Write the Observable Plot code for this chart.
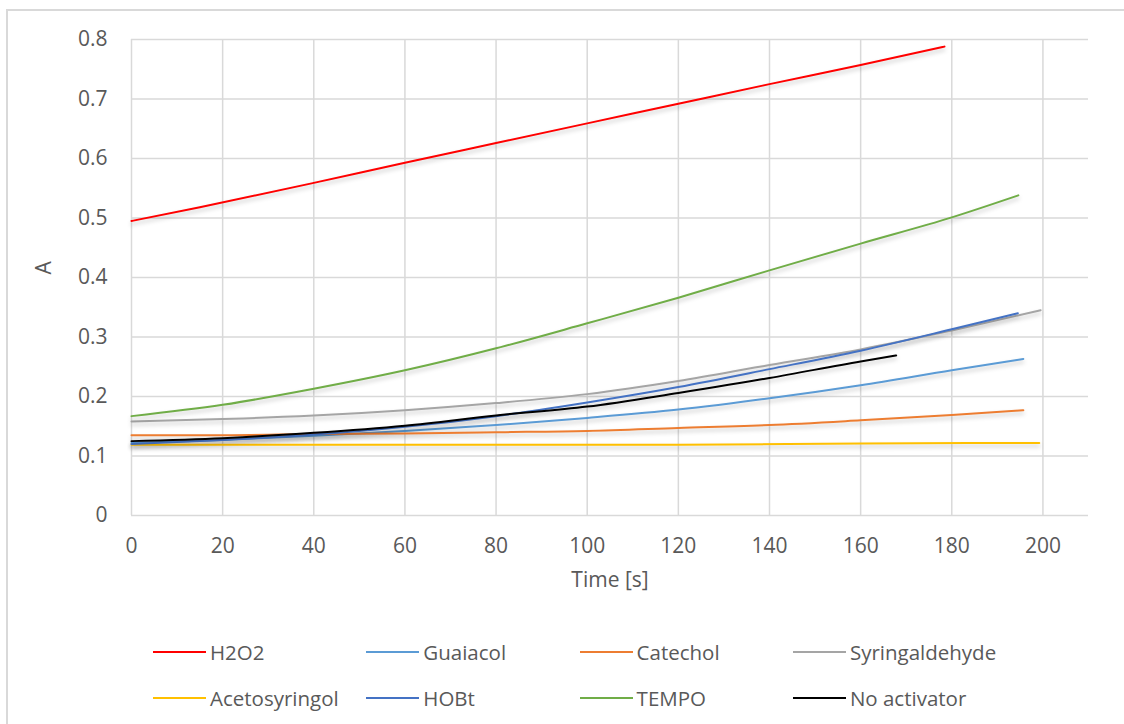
<!DOCTYPE html>
<html><head><meta charset="utf-8">
<script src="https://cdn.jsdelivr.net/npm/d3@7"></script>
<script src="https://cdn.jsdelivr.net/npm/@observablehq/plot@0.6"></script>
<style>
body{margin:0;width:1124px;height:724px;overflow:hidden;background:#fff;font-family:"Open Sans",sans-serif;position:relative}
#frame{position:absolute;left:6px;top:9px;width:1300px;height:900px;border:2px solid #d9d9d9;box-sizing:border-box}
#chart{position:absolute;left:0;top:0}
#chart g[aria-label="line"] path{filter:drop-shadow(0px 3px 2px rgba(0,0,0,0.22));}
.item{position:absolute;height:26px;display:flex;align-items:center;font-size:20.5px;color:#595959;white-space:nowrap}
.sw{width:53px;height:0;border-top:2px solid;margin-right:4px}
</style></head>
<body>
<div id="frame"></div>
<div id="chart"></div>
<div id="legend"></div>
<script>
const seriesNames = ["H2O2","Guaiacol","Catechol","Syringaldehyde","Acetosyringol","HOBt","TEMPO","No activator"];
const seriesColors = ["#ff0000","#5b9bd5","#ed7d31","#a5a5a5","#ffc000","#4472c4","#70ad47","#000000"];
const xTicks = [0,20,40,60,80,100,120,140,160,180,200];
const yTicks = [0,0.1,0.2,0.3,0.4,0.5,0.6,0.7,0.8];

const tH2O2 = [0,15,40,60,80,100,120,140,160,178.4];
const vH2O2 = [0.495,0.518,0.559,0.593,0.626,0.659,0.692,0.725,0.757,0.788];
const tGuaiacol = [0,20,40,60,80,100,120,140,160,180,195.7];
const vGuaiacol = [0.122,0.127,0.134,0.142,0.152,0.164,0.178,0.197,0.219,0.244,0.263];
const tCatechol = [0,20,40,60,80,100,120,140,160,180,195.7];
const vCatechol = [0.135,0.135,0.137,0.138,0.140,0.142,0.147,0.152,0.160,0.169,0.177];
const tSyringaldehyde = [0,20,40,60,80,100,120,140,160,180,199.5];
const vSyringaldehyde = [0.158,0.162,0.168,0.177,0.189,0.204,0.226,0.253,0.279,0.311,0.345];
const tAcetosyringol = [0,40,80,120,160,199.2];
const vAcetosyringol = [0.119,0.119,0.119,0.119,0.121,0.122];
const tHOBt = [0,20,40,60,80,100,120,140,160,180,194.5];
const vHOBt = [0.120,0.127,0.136,0.149,0.167,0.190,0.216,0.246,0.277,0.313,0.340];
const tTEMPO = [0,20,40,60,80,100,120,140,160,180,194.6];
const vTEMPO = [0.167,0.186,0.213,0.244,0.281,0.323,0.366,0.412,0.457,0.501,0.538];
const tNoAct = [0,20,40,60,80,100,120,140,160,167.8];
const vNoAct = [0.125,0.130,0.139,0.151,0.168,0.183,0.206,0.231,0.259,0.269];

const pairs = [[tH2O2,vH2O2],[tGuaiacol,vGuaiacol],[tCatechol,vCatechol],[tSyringaldehyde,vSyringaldehyde],
  [tAcetosyringol,vAcetosyringol],[tHOBt,vHOBt],[tTEMPO,vTEMPO],[tNoAct,vNoAct]];
const rows = [];
pairs.forEach(([ts,vs],i)=>ts.forEach((t,j)=>rows.push({name:seriesNames[i],t,v:vs[j]})));

const chart = Plot.plot({
  width:1124, height:600,
  marginLeft:131, marginRight:36, marginTop:39, marginBottom:85,
  style:{fontFamily:"'Open Sans',sans-serif",fontSize:"21px",color:"#595959",background:"transparent"},
  x:{domain:[0,210]},
  y:{domain:[0,0.8]},
  color:{domain:seriesNames, range:seriesColors},
  marks:[
    Plot.gridX({ticks:xTicks, stroke:"#d9d9d9", strokeOpacity:1, strokeWidth:1.5}),
    Plot.gridY({ticks:yTicks, stroke:"#d9d9d9", strokeOpacity:1, strokeWidth:1.5}),
    Plot.axisX({ticks:xTicks, tickSize:0, tickPadding:23, label:null, fill:"#595959", fontSize:21}),
    Plot.axisY({ticks:yTicks, tickSize:0, tickPadding:24, label:null, fill:"#595959", fontSize:21, tickFormat:d=>d===0?"0":d3.format(".1f")(d)}),
    Plot.text(["Time [s]"], {frameAnchor:"bottom", dy:71, fill:"#595959", fontSize:21}),
    Plot.text(["A"], {frameAnchor:"left", dx:-87, dy:-3, rotate:-90, fill:"#595959", fontSize:21}),
    Plot.line(rows, {x:"t", y:"v", z:"name", stroke:"name", curve:"monotone-x", strokeWidth:2})
  ]
});
document.getElementById("chart").appendChild(chart);

const leg = document.getElementById("legend");
seriesNames.forEach((n,i)=>{
  const col = i%4, row = Math.floor(i/4);
  const d = document.createElement("div");
  d.className="item";
  d.style.left = (153 + col*213.3) + "px";
  d.style.top = (639 + row*46) + "px";
  d.innerHTML = `<span class="sw" style="border-color:${seriesColors[i]}"></span><span>${n}</span>`;
  leg.appendChild(d);
});
</script>
</body></html>
